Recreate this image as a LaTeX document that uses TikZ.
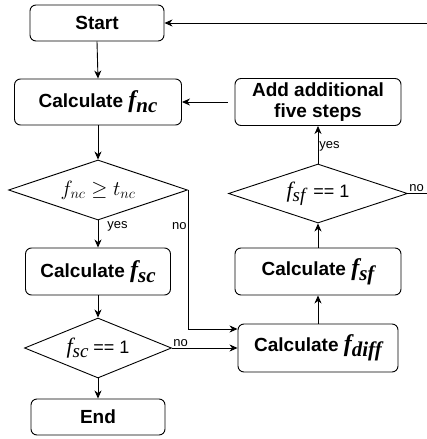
\documentclass[tikz,border=0pt]{standalone}
\usepackage{fontspec}
\setmainfont{Liberation Sans}
\newfontfamily\timesfont{Liberation Serif}
\usetikzlibrary{shapes.geometric,arrows.meta}

% f with subscript, in the boxes and in the decisions
\newcommand{\fbold}[1]{{\timesfont\itshape\fontsize{24}{24}\selectfont f\raisebox{-5pt}{\fontsize{21}{21}\selectfont #1}}}
\newcommand{\fthin}[1]{{\timesfont\itshape\fontsize{22}{22}\selectfont f\raisebox{-4pt}{\fontsize{19}{19}\selectfont #1}}}

\tikzset{
  procbox/.style={draw, rounded corners=6pt, align=center, inner sep=2pt,
    font=\fontsize{19}{21.5}\selectfont\bfseries},
  decision/.style={draw, diamond, aspect=3, inner sep=0pt,
    font=\fontsize{18}{20}\selectfont},
  flow/.style={-{Stealth[length=8pt,width=7pt,inset=2.5pt]}},
  edgelabel/.style={font=\fontsize{13}{15}\selectfont, inner sep=1pt},
}

\begin{document}
\begin{tikzpicture}[x=1pt, y=-1pt, line width=0.9pt]
            \path[use as bounding box, clip] (0,0) rectangle (427,439); % picture frame
            % left column
            \node[procbox, minimum width=134pt, minimum height=36pt] (start) at (97,23) {Start};
            \node[procbox, minimum width=167pt, minimum height=46pt] (calcnc) at (98,102) {Calculate \fbold{nc}};
            \node[decision, minimum width=179pt, minimum height=60pt] (nccheck) at (98,190) {\fontsize{22}{22}\selectfont$f_{nc} \geq t_{nc}$};
            \node[procbox, minimum width=145pt, minimum height=47pt] (calcsc) at (98,271.5) {Calculate \fbold{sc}};
            \node[decision, minimum width=147pt, minimum height=60pt] (sccheck) at (98,348) {\fthin{sc} == 1};
            \node[procbox, minimum width=134pt, minimum height=36pt] (stopbox) at (98,417) {End};
            % right column
            \node[procbox, minimum width=166pt, minimum height=47pt] (addsteps) at (318,102) {Add additional\\five steps};
            \node[decision, minimum width=179pt, minimum height=59pt] (sfcheck) at (318,193.5) {\fthin{sf} \,== 1};
            \node[procbox, minimum width=166pt, minimum height=47pt] (calcsf) at (318,271.5) {Calculate \fbold{sf}};
            \node[procbox, minimum width=160pt, minimum height=48pt] (calcdiff) at (318,348) {Calculate \fbold{diff}};
            % connectors
            \draw[flow] (start.south) -- (calcnc.north);
            \draw[flow] (calcnc.south) -- (nccheck.north);
            \draw[flow] (nccheck.south) -- node[edgelabel, anchor=north west, pos=0, xshift=8pt]{yes} (calcsc.north);
            \draw[flow] (nccheck.east) |- node[edgelabel, left, pos=0.13]{no} ([yshift=19pt]calcdiff.west);
            \draw[flow] (calcsc.south) -- (sccheck.north);
            \draw[flow] (sccheck.south) -- (stopbox.north);
            \draw[flow] (sccheck.east) -- node[edgelabel, anchor=south west, pos=0]{no} (calcdiff.west);
            \draw[flow] (calcdiff.north) -- (calcsf.south);
            \draw[flow] (calcsf.north) -- (sfcheck.south);
            \draw[flow] (sfcheck.north) -- node[edgelabel, right, pos=0.46]{yes} (addsteps.south);
            \draw[flow, shorten <=7pt] (addsteps.west) -- (calcnc.east);
            \draw[flow] (sfcheck.east) node[edgelabel, anchor=south west]{no} -- ++(30,0) |- (start.east); % loops back past the right edge
\end{tikzpicture}
\end{document}
